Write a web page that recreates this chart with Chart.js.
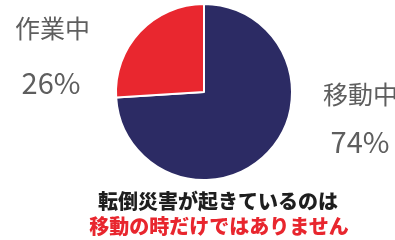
<!DOCTYPE html>
<html><head><meta charset="utf-8">
<script src="https://cdn.jsdelivr.net/npm/chart.js@4"></script>
<style>
html,body{margin:0;padding:0;background:#fff;width:395px;height:240px;overflow:hidden;}
#wrap{position:relative;width:395px;height:240px;}
canvas{position:absolute;left:0;top:0;}
.t{position:absolute;white-space:nowrap;font-family:"Noto Sans CJK JP","Noto Sans",sans-serif;line-height:1;}
.lab{color:#5e5e5e;font-size:25px;}
.pct{color:#5e5e5e;font-size:29px;width:100px;text-align:center;}
.cap{font-size:20px;font-weight:900;width:300px;text-align:center;}
</style></head>
<body><div id="wrap"><canvas id="c" width="395" height="240"></canvas>
<div class="t lab" id="l1" style="left:323px;top:81px;"></div>
<div class="t pct" id="p1" style="left:310px;top:126px;"></div>
<div class="t lab" id="l0" style="left:15px;top:15px;"></div>
<div class="t pct" id="p0" style="left:1px;top:67px;"></div>
<div class="t cap" id="c1" style="left:68px;top:191px;color:#1e1e1e;"></div>
<div class="t cap" id="c2" style="left:69px;top:216px;color:#e8262e;"></div>
</div>
<script>
const categories = ["移動中", "作業中"];
const values = [74, 26];
const colors = ["#2c2b64", "#e9272f"];
const captionLines = ["転倒災害が起きているのは", "移動の時だけではありません"];

document.getElementById('l0').textContent = categories[1];
document.getElementById('p0').textContent = values[1] + '%';
document.getElementById('l1').textContent = categories[0];
document.getElementById('p1').textContent = values[0] + '%';
document.getElementById('c1').textContent = captionLines[0];
document.getElementById('c2').textContent = captionLines[1];

new Chart(document.getElementById('c'), {
  type: 'pie',
  data: { labels: categories, datasets: [{ data: values, backgroundColor: colors, borderColor: '#ffffff', borderWidth: 2 }] },
  options: {
    responsive: false, animation: false,
    layout: { padding: { left: 115, right: 102, top: 3, bottom: 59 } },
    plugins: { legend: { display: false }, tooltip: { enabled: false } }
  }
});
</script></body></html>
